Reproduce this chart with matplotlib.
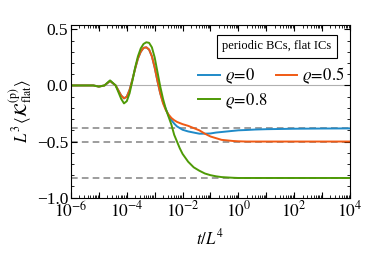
import numpy as np
import matplotlib
matplotlib.use("Agg")
import matplotlib.pyplot as plt
from matplotlib.ticker import LogLocator, FixedLocator, MultipleLocator, FuncFormatter

# log10(t/L^4) where the curves were read
log_t = [-6.0, -5.5, -5.2, -5.0, -4.8, -4.6, -4.4, -4.2, -4.1, -4.0, -3.9, -3.8, -3.7,
         -3.6, -3.5, -3.4, -3.3, -3.2, -3.1, -3.0, -2.9, -2.8, -2.7, -2.6, -2.5, -2.4,
         -2.3, -2.2, -2.1, -2.0, -1.8, -1.6, -1.4, -1.2, -1.0, -0.8, -0.6, -0.4, -0.2,
         0.0, 0.3, 0.6, 1.0, 1.5, 2.0, 3.0, 4.0]

k_rho0 = [0.0, 0.0, 0.0, -0.01, 0.0, 0.04, 0.0, -0.09, -0.115, -0.10, -0.04, 0.05, 0.15,
          0.24, 0.30, 0.335, 0.34, 0.32, 0.26, 0.16, 0.04, -0.07, -0.15, -0.21, -0.27, -0.31,
          -0.34, -0.365, -0.38, -0.395, -0.41, -0.42, -0.43, -0.43, -0.428, -0.42, -0.415, -0.41, -0.405,
          -0.40, -0.397, -0.393, -0.39, -0.388, -0.386, -0.384, -0.383]

k_rho05 = [0.0, 0.0, 0.0, -0.01, 0.0, 0.04, 0.0, -0.09, -0.115, -0.10, -0.04, 0.05, 0.15,
           0.24, 0.30, 0.335, 0.34, 0.32, 0.26, 0.16, 0.04, -0.07, -0.16, -0.22, -0.26, -0.29,
           -0.31, -0.325, -0.335, -0.345, -0.36, -0.38, -0.40, -0.43, -0.455, -0.47, -0.485, -0.49, -0.495,
           -0.498, -0.5, -0.5, -0.5, -0.5, -0.5, -0.5, -0.5]

k_rho08 = [0.0, 0.0, 0.0, -0.01, 0.0, 0.045, 0.0, -0.12, -0.16, -0.14, -0.07, 0.04, 0.16,
           0.26, 0.33, 0.37, 0.385, 0.38, 0.34, 0.25, 0.12, -0.01, -0.12, -0.21, -0.28, -0.35,
           -0.44, -0.50, -0.56, -0.61, -0.68, -0.73, -0.76, -0.785, -0.80, -0.81, -0.817, -0.82, -0.823,
           -0.825, -0.825, -0.825, -0.825, -0.825, -0.825, -0.825, -0.825]

asymptotes = [-0.383, -0.5, -0.825]
labels = [r"$\varrho\!=\!0$", r"$\varrho\!=\!0.5$", r"$\varrho\!=\!0.8$"]
colors = ["#1f8ac8", "#f05a14", "#4e9a06"]

plt.rcParams["font.family"] = "serif"
plt.rcParams["font.serif"] = ["Liberation Serif", "DejaVu Serif"]
plt.rcParams["mathtext.fontset"] = "stix"

fig = plt.figure(figsize=(3.66, 2.54), dpi=100)
ax = fig.add_axes([0.194, 0.222, 0.762, 0.680])

t = 10.0 ** np.array(log_t)

ax.axhline(0.0, color="#b0b0b0", lw=0.8, zorder=1)
for a in asymptotes:
    ax.axhline(a, color="#8c8c8c", lw=1.2, ls=(0, (4, 2.5)), zorder=1)

lines = []
for y, lab, c in zip([k_rho0, k_rho05, k_rho08], labels, colors):
    ln, = ax.plot(t, y, color=c, lw=1.4, label=lab, zorder=2)
    lines.append(ln)

ax.set_xscale("log")
ax.set_xlim(1e-6, 1e4)
ax.set_ylim(-1.0, 0.54)

ax.xaxis.set_major_locator(FixedLocator([10.0 ** k for k in range(-6, 5)]))
ax.xaxis.set_major_formatter(FuncFormatter(
    lambda v, p: r"$10^{%d}$" % round(np.log10(v)) if round(np.log10(v)) % 2 == 0 else ""))
ax.xaxis.set_minor_locator(LogLocator(base=10, subs=np.arange(2, 10), numticks=100))
ax.yaxis.set_major_locator(MultipleLocator(0.5))
ax.yaxis.set_minor_locator(MultipleLocator(0.1))
ax.yaxis.set_major_formatter(FuncFormatter(lambda v, p: ("%.1f" % v).replace("-", "\u2212")))

ax.tick_params(which="both", direction="in", top=True, right=True, labelsize=12.5, pad=2)
ax.tick_params(which="major", length=4, width=0.8)
ax.tick_params(which="minor", length=2, width=0.6)

ax.set_xlabel(r"$t/L^4$", fontsize=12, labelpad=6)
ax.set_ylabel(r"$L^3\,\langle\mathcal{K}^{(\mathrm{p})}_{\mathrm{flat}}\rangle$", fontsize=12, labelpad=1)

ax.text(0.738, 0.875, "periodic BCs, flat ICs", transform=ax.transAxes, fontsize=9,
        ha="center", va="center",
        bbox=dict(boxstyle="square,pad=0.45", fc="white", ec="black", lw=0.8))

# two columns: first column rho=0, rho=0.8; second column rho=0.5
order = [0, 2, 1]
ax.legend([lines[i] for i in order], [labels[i] for i in order],
          loc="upper left", bbox_to_anchor=(0.455, 0.765), ncol=2, frameon=False, fontsize=12,
          handlelength=1.3, handletextpad=0.3, columnspacing=0.5, labelspacing=0.25,
          borderpad=0.0, borderaxespad=0.0)

fig.savefig("out.png", dpi=100)
